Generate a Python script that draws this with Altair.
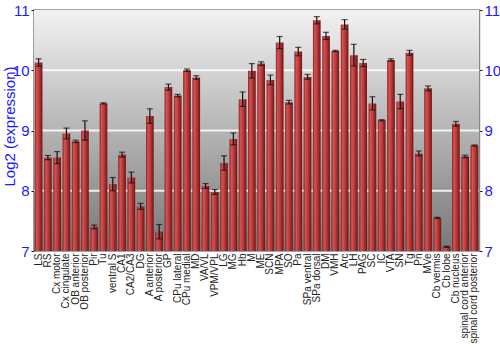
import altair as alt
import pandas as pd

regions = ["LS", "RS", "Cx motor", "Cx cingulate", "OB anterior", "OB posterior", "Pir", "Tu",
           "ventral S", "CA1", "CA2/CA3", "DG", "A anterior", "A posterior", "GP", "CPu lateral",
           "CPu medial", "MD", "VA/VL", "VPM/VPL", "LG", "MG", "Hb", "M", "ME", "SCN", "MPA", "SO",
           "Pa", "SPa ventral", "SPa dorsal", "DM", "VMH", "Arc", "LH", "PAG", "SC", "IC", "VTA",
           "SN", "Tg", "Pn", "MVe", "Cb vermis", "Cb lobe", "Cb nucleus", "spinal cord anterior",
           "spinal cord posterior"]
means = [10.13, 8.55, 8.55, 8.95, 8.82, 9.00, 7.40, 9.45,
         8.11, 8.60, 8.22, 7.74, 9.24, 7.32, 9.72, 9.58,
         10.00, 9.88, 8.08, 7.98, 8.46, 8.86, 9.52, 9.99, 10.11, 9.84, 10.46, 9.47,
         10.31, 9.89, 10.83, 10.57, 10.32, 10.76, 10.25, 10.12, 9.45, 9.17, 10.17,
         9.48, 10.29, 8.62, 9.70, 7.55, 7.07, 9.11, 8.57,
         8.75]
errs = [0.06, 0.035, 0.10, 0.09, 0.02, 0.16, 0.03, 0.01,
        0.11, 0.04, 0.09, 0.05, 0.12, 0.12, 0.05, 0.02,
        0.02, 0.03, 0.04, 0.04, 0.12, 0.10, 0.12, 0.12, 0.03, 0.08, 0.10, 0.03,
        0.07, 0.04, 0.06, 0.06, 0.01, 0.08, 0.18, 0.06, 0.11, 0.01, 0.02,
        0.12, 0.04, 0.04, 0.04, 0.01, 0.01, 0.04, 0.02,
        0.01]
y_ticks = [7, 8, 9, 10, 11]
grid_values = [8, 9, 10]

W, H = 445, 241
BLUE = "#1a1aff"

df = pd.DataFrame({"region": regions, "mean": means, "err": errs})
df["lo"] = df["mean"] - df["err"]
df["hi"] = df["mean"] + df["err"]

xenc = alt.X("region:N", sort=regions, title=None,
             scale=alt.Scale(paddingInner=0.17, paddingOuter=0.08),
             axis=alt.Axis(labelAngle=-90, labelFontSize=10, labelColor="#222",
                           labelFont="Liberation Sans", ticks=False, domain=False,
                           labelPadding=2, labelOverlap=False, labelLimit=200))
yscale = alt.Scale(domain=[7, 11], zero=False, nice=False)

left_axis = alt.Axis(values=y_ticks, orient="left", format="d", labelColor=BLUE,
                     labelFontSize=15, labelFont="Liberation Sans", title="Log2 (expression)",
                     titleColor=BLUE, titleFontSize=15, titleFont="Liberation Sans",
                     titleFontWeight="normal", titleX=-25, titleY=116, titleAngle=-90,
                     titleAlign="center", titleBaseline="middle", grid=False,
                     domainColor="#888888", domainWidth=1.5, tickColor="#111",
                     tickSize=3, labelPadding=2)
right_axis = alt.Axis(values=y_ticks, orient="right", format="d", labelColor=BLUE,
                      labelFontSize=15, labelFont="Liberation Sans", title=None, grid=False,
                      domainColor="#888888", domainWidth=1.5, tickColor="#111",
                      tickSize=3, labelPadding=2)

bg = alt.Chart(pd.DataFrame({"a": [0]})).mark_rect(
    color=alt.LinearGradient(gradient="linear", x1=0, x2=0, y1=0, y2=1,
                             stops=[alt.GradientStop(offset=0, color="#f2f2f2"),
                                    alt.GradientStop(offset=1, color="#777777")])
).encode(x=alt.value(0), x2=alt.value(W), y=alt.value(0), y2=alt.value(H))

grid = alt.Chart(pd.DataFrame({"g": grid_values})).mark_rule(
    color="#ffffff", strokeWidth=2, opacity=0.85
).encode(y=alt.Y("g:Q", scale=yscale, axis=left_axis))

bars = alt.Chart(df).mark_bar(
    color=alt.LinearGradient(gradient="linear", x1=0, x2=1, y1=0, y2=0,
                             stops=[alt.GradientStop(offset=0, color="#8e2222"),
                                    alt.GradientStop(offset=0.25, color="#d25454"),
                                    alt.GradientStop(offset=0.6, color="#b53636"),
                                    alt.GradientStop(offset=1, color="#6e1414")]),
    clip=True
).encode(x=xenc, y=alt.Y("mean:Q", scale=yscale, axis=right_axis), y2=alt.datum(7))

rules = alt.Chart(df).mark_rule(color="#111", strokeWidth=1.2).encode(
    x=xenc, y=alt.Y("lo:Q", scale=yscale, axis=None), y2="hi:Q")
caps_lo = alt.Chart(df).mark_tick(color="#111", size=6, thickness=1.2).encode(
    x=xenc, y=alt.Y("lo:Q", scale=yscale, axis=None))
caps_hi = alt.Chart(df).mark_tick(color="#111", size=6, thickness=1.2).encode(
    x=xenc, y=alt.Y("hi:Q", scale=yscale, axis=None))

chart = alt.layer(bg, grid, bars, rules, caps_lo, caps_hi).resolve_axis(
    y="independent"
).properties(
    width=W, height=H,
    autosize=alt.AutoSizeParams(type="none"),
    padding={"left": 34, "top": 10, "right": 21, "bottom": 99},
).configure_view(stroke="#888888", strokeWidth=1.5)

chart.save("out.html", embed_options={"renderer": "svg", "actions": False})
